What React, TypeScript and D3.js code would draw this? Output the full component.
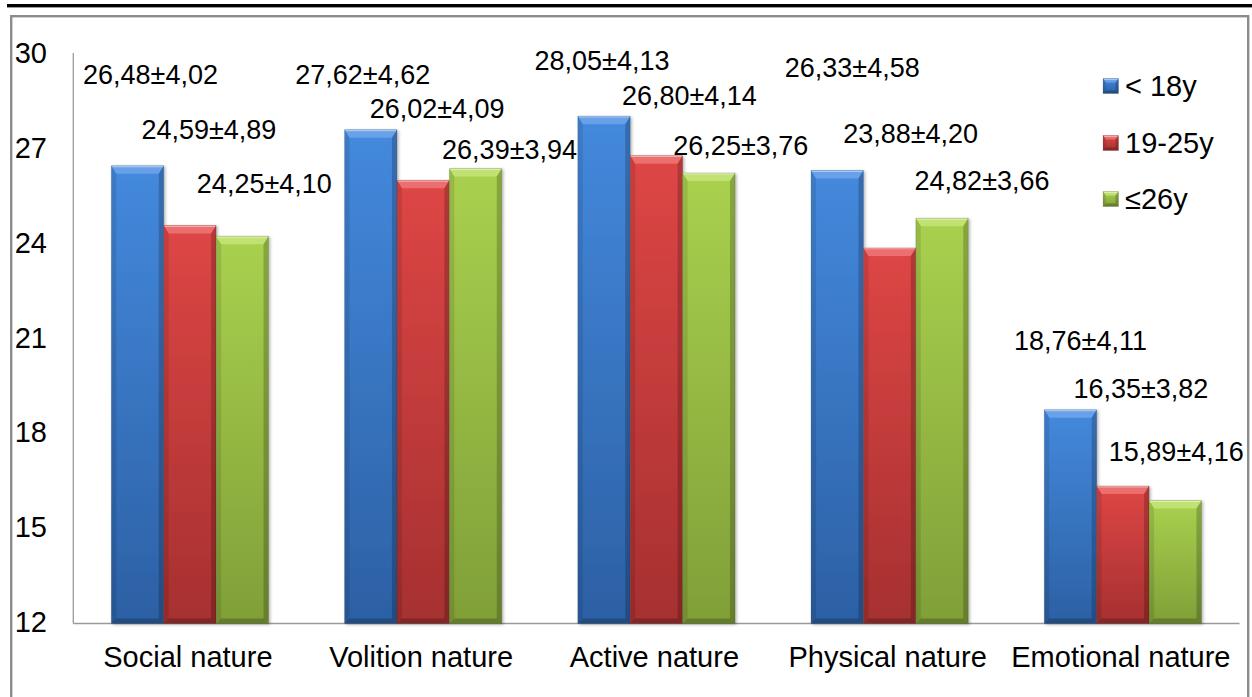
import React from "react";
import * as d3 from "d3";

// Categories and series
const categories = [
  "Social nature",
  "Volition nature",
  "Active nature",
  "Physical nature",
  "Emotional nature",
];
const seriesNames = ["< 18y", "19-25y", "≤26y"];

const under18Mean = [26.48, 27.62, 28.05, 26.33, 18.76];
const under18Sd = [4.02, 4.62, 4.13, 4.58, 4.11];
const age19to25Mean = [24.59, 26.02, 26.8, 23.88, 16.35];
const age19to25Sd = [4.89, 4.09, 4.14, 4.2, 3.82];
const over26Mean = [24.25, 26.39, 26.25, 24.82, 15.89];
const over26Sd = [4.1, 3.94, 3.76, 3.66, 4.16];

const yTicks = [12, 15, 18, 21, 24, 27, 30];

// Hand-placed data label nudges [dx, dy] from each bar's top centre
const labelNudge = [
  [[13, -91], [-8, -55], [-2, -55], [15, -103], [10, -69]],
  [[19, -96], [14, -71], [33, -60], [21, -114], [18, -97]],
  [[22, -52], [34, -19], [32, -27], [40, -37], [1, -49]],
];

const palette = [
  { top: "#4489DD", bottom: "#2C60A4", light: "#6FA6EC", id: "gBlue" },
  { top: "#DE4645", bottom: "#A63030", light: "#EE7575", id: "gRed" },
  { top: "#A9D14E", bottom: "#809F38", light: "#C6E47A", id: "gGreen" },
];

const FONT = "'Liberation Sans', Arial, Helvetica, sans-serif";

const fmt = (v: number) => v.toFixed(2).replace(".", ",");

function Bevel({
  x,
  y,
  w,
  h,
  c,
  bt,
  bs,
}: {
  x: number;
  y: number;
  w: number;
  h: number;
  c: (typeof palette)[number];
  bt: number;
  bs: number;
}) {
  const x2 = x + w;
  const y2 = y + h;
  const pts = (a: number[][]) => a.map((p) => p.join(",")).join(" ");
  return (
    <g>
      <rect x={x} y={y} width={w} height={h} fill={`url(#${c.id})`} />
      <polygon
        points={pts([[x, y], [x2, y], [x2 - bs, y + bt], [x + bs, y + bt]])}
        fill={c.light}
        opacity={0.85}
      />
      <line x1={x + 1} x2={x2 - 1} y1={y + 0.8} y2={y + 0.8} stroke="#fff" strokeOpacity={0.45} strokeWidth={1.2} />
      <polygon
        points={pts([[x, y], [x + bs, y + bt], [x + bs, y2 - bs], [x, y2]])}
        fill="#000"
        opacity={0.1}
      />
      <polygon
        points={pts([[x2, y], [x2, y2], [x2 - bs, y2 - bs], [x2 - bs, y + bt]])}
        fill="#000"
        opacity={0.2}
      />
      <polygon
        points={pts([[x, y2], [x + bs, y2 - bs], [x2 - bs, y2 - bs], [x2, y2]])}
        fill="#000"
        opacity={0.22}
      />
      <rect x={x} y={y} width={w} height={h} fill="none" stroke="#000" strokeOpacity={0.15} strokeWidth={0.8} />
    </g>
  );
}

export default function App() {
  const W = 1252;
  const H = 697;
  const left = 73.3;
  const right = 1239.5;
  const top = 54.5;
  const bottom = 623.5;

  const means = [under18Mean, age19to25Mean, over26Mean];
  const sds = [under18Sd, age19to25Sd, over26Sd];

  const x0 = d3
    .scaleBand<string>()
    .domain(categories)
    .range([left, right])
    .paddingInner(0.326)
    .paddingOuter(0.163);
  const x1 = d3
    .scaleBand<string>()
    .domain(seriesNames)
    .range([0, x0.bandwidth()]);
  const y = d3.scaleLinear().domain([12, 30]).range([bottom, top]);

  const legendY = [86, 143, 199];

  return (
    <div style={{ position: "absolute", left: 0, top: 0, width: W, height: H, background: "#fff" }}>
      <svg width={W} height={H} viewBox={`0 0 ${W} ${H}`} style={{ display: "block" }}>
        <defs>
          {palette.map((c) => (
            <linearGradient key={c.id} id={c.id} x1="0" y1="0" x2="0" y2="1">
              <stop offset="0" stopColor={c.top} />
              <stop offset="1" stopColor={c.bottom} />
            </linearGradient>
          ))}
          <filter id="shadow" x="-10%" y="-10%" width="130%" height="130%">
            <feDropShadow dx="1.5" dy="1" stdDeviation="1.5" floodColor="#000" floodOpacity="0.3" />
          </filter>
        </defs>
        <rect x={0} y={0} width={W} height={H} fill="#fff" />

        {/* heavy rule above the chart and the chart frame */}
        <rect x={7} y={4} width={W - 7} height={3.4} fill="#000" />
        <rect x={11.2} y={16.2} width={1237} height={720} fill="none" stroke="#8c8c8c" strokeWidth={2.4} />

        {/* axes */}
        <line x1={left} x2={left} y1={53} y2={bottom} stroke="#9a9a9a" strokeWidth={1.3} />
        <line x1={left} x2={right} y1={bottom} y2={bottom} stroke="#9a9a9a" strokeWidth={1.5} />

        {yTicks.map((t) => (
          <text
            key={t}
            x={47}
            y={y(t) - 1.5}
            textAnchor="end"
            dominantBaseline="central"
            fontFamily={FONT}
            fontSize={29}
            fill="#000"
          >
            {t}
          </text>
        ))}

        {categories.map((c) => (
          <text
            key={c}
            x={(x0(c) as number) + x0.bandwidth() / 2 - 2}
            y={657}
            textAnchor="middle"
            dominantBaseline="central"
            fontFamily={FONT}
            fontSize={29}
            fill="#000"
          >
            {c}
          </text>
        ))}

        {/* bars */}
        <g filter="url(#shadow)">
          {seriesNames.map((s, si) =>
            categories.map((c, ci) => {
              const v = means[si][ci];
              const bx = (x0(c) as number) + (x1(s) as number);
              const by = y(v);
              return (
                <Bevel
                  key={`${s}-${c}`}
                  x={bx}
                  y={by}
                  w={x1.bandwidth()}
                  h={y(12) - by}
                  c={palette[si]}
                  bt={8}
                  bs={5}
                />
              );
            })
          )}
        </g>

        {/* data labels */}
        {seriesNames.map((s, si) =>
          categories.map((c, ci) => {
            const v = means[si][ci];
            const cx = (x0(c) as number) + (x1(s) as number) + x1.bandwidth() / 2;
            const [dx, dy] = labelNudge[si][ci];
            return (
              <text
                key={`l-${s}-${c}`}
                x={cx + dx}
                y={y(v) + dy}
                textAnchor="middle"
                dominantBaseline="central"
                fontFamily={FONT}
                fontSize={27}
                fill="#000"
              >
                {`${fmt(v)}±${fmt(sds[si][ci])}`}
              </text>
            );
          })
        )}

        {/* legend */}
        {seriesNames.map((s, si) => (
          <g key={`lg-${s}`}>
            <Bevel x={1103} y={legendY[si] - 7.5} w={15.5} h={15} c={palette[si]} bt={4} bs={3} />
            <text
              x={1125}
              y={legendY[si]}
              dominantBaseline="central"
              fontFamily={FONT}
              fontSize={29}
              fill="#000"
              style={{ whiteSpace: "pre" }}
            >
              {s}
            </text>
          </g>
        ))}
      </svg>
    </div>
  );
}
